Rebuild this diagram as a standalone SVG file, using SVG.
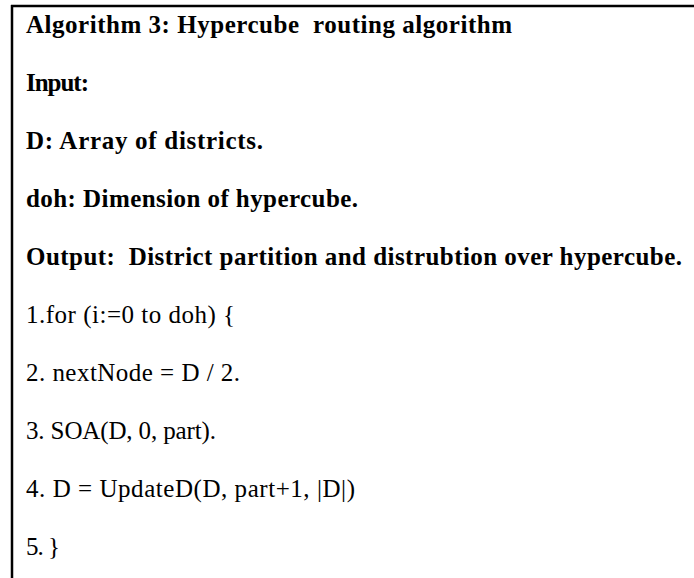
<svg xmlns="http://www.w3.org/2000/svg" width="694" height="578" viewBox="0 0 694 578">
<style>
.t{font-family:"Liberation Serif","Times New Roman",serif;font-size:25px;fill:#000;white-space:pre}
.b{font-weight:bold}
.frame{stroke:#000;stroke-width:2.5;fill:none}
</style>
<rect width="694" height="578" fill="#fff"/>
<g id="frame">
<line class="frame" x1="11" y1="6" x2="694" y2="6"/>
<line class="frame" x1="12" y1="5" x2="12" y2="578"/>
</g>
<g id="connectors"></g>
<g id="text">
<text class="t b" x="26" y="33" textLength="486" xml:space="preserve">Algorithm 3: Hypercube  routing algorithm</text>
<text class="t b" x="26" y="91" textLength="63">Input:</text>
<text class="t b" x="26" y="149" textLength="237">D: Array of districts.</text>
<text class="t b" x="26" y="207" textLength="332">doh: Dimension of hypercube.</text>
<text class="t b" x="26" y="265" textLength="656" xml:space="preserve">Output:  District partition and distrubtion over hypercube.</text>
<text class="t" x="26" y="323" textLength="209">1.for (i:=0 to doh) {</text>
<text class="t" x="26" y="381" textLength="214">2. nextNode = D / 2.</text>
<text class="t" x="26" y="439" textLength="190">3. SOA(D, 0, part).</text>
<text class="t" x="26" y="497" textLength="329">4. D = UpdateD(D, part+1, |D|)</text>
<text class="t" x="26" y="555" textLength="34">5. }</text>
</g>
</svg>
